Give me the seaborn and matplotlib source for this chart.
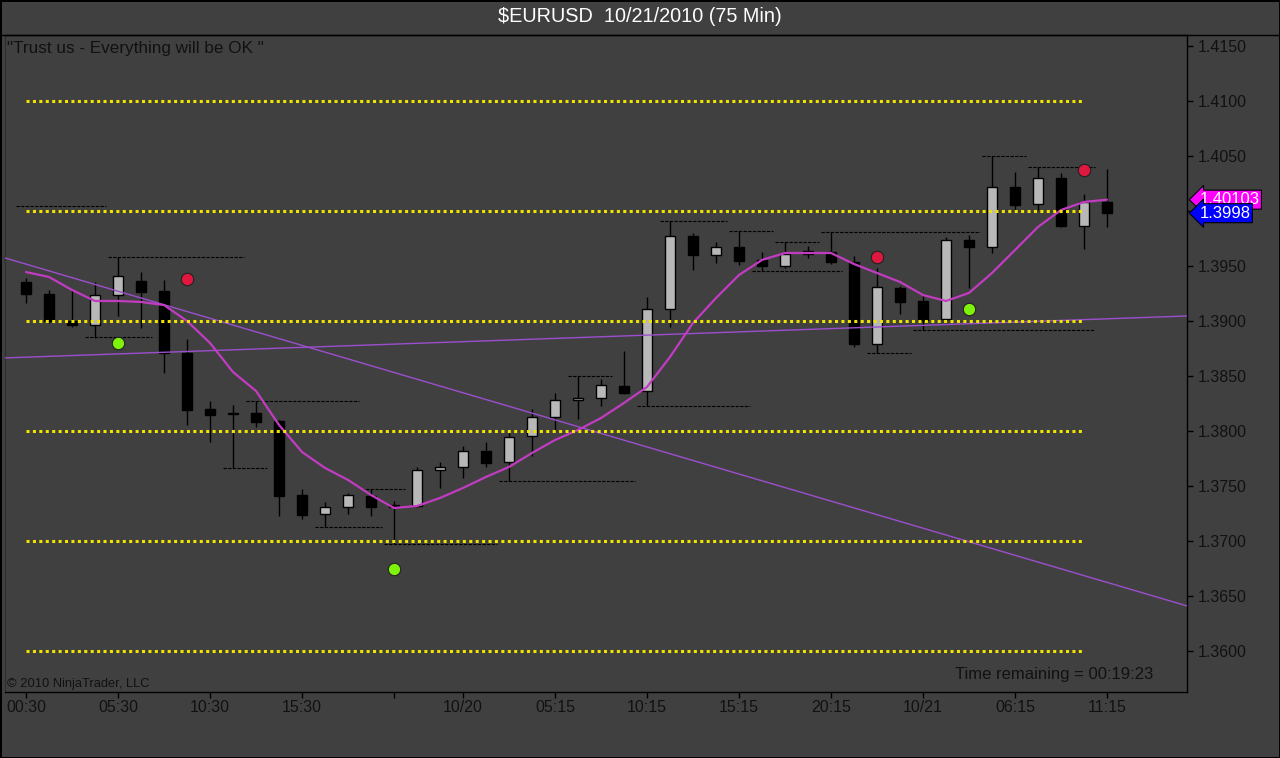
import numpy as np
import pandas as pd
import matplotlib
matplotlib.use("Agg")
import matplotlib.pyplot as plt
from matplotlib.lines import Line2D
import seaborn as sns

# EURUSD 75 min bars, one row per bar (index 0 = 00:30 on 10/19)
bar_open = [1.39355, 1.39245, 1.39000, 1.38964, 1.39236, 1.39364, 1.39273, 1.38709,
            1.38200, 1.38164, 1.38164, 1.38091, 1.37418, 1.37245, 1.37309, 1.37409,
            1.37327, 1.37318, 1.37645, 1.37673, 1.37818, 1.37718, 1.37955, 1.38127,
            1.38282, 1.38300, 1.38409, 1.38364, 1.39109, 1.39773, 1.39600, 1.39673,
            1.39555, 1.39500, 1.39609, 1.39627, 1.39536, 1.38791, 1.39300, 1.39182,
            1.39018, 1.39736, 1.39673, 1.40218, 1.40064, 1.40300, 1.39864, 1.40082]
bar_high = [1.39391, 1.39282, 1.39282, 1.39355, 1.39582, 1.39445, 1.39373, 1.38836,
            1.38273, 1.38236, 1.38273, 1.38100, 1.37473, 1.37355, 1.37436, 1.37473,
            1.37364, 1.37673, 1.37718, 1.37864, 1.37900, 1.38009, 1.38200, 1.38345,
            1.38500, 1.38473, 1.38727, 1.39218, 1.39909, 1.39800, 1.39718, 1.39818,
            1.39627, 1.39718, 1.39682, 1.39809, 1.39591, 1.39482, 1.39318, 1.39227,
            1.39764, 1.39782, 1.40500, 1.40355, 1.40400, 1.40345, 1.40155, 1.40382]
bar_low = [1.39164, 1.38982, 1.38945, 1.38845, 1.39045, 1.38936, 1.38527, 1.38055,
           1.37900, 1.37664, 1.38036, 1.37227, 1.37200, 1.37127, 1.37245, 1.37227,
           1.36975, 1.37310, 1.37482, 1.37573, 1.37673, 1.37545, 1.37773, 1.38009,
           1.38109, 1.38227, 1.38336, 1.38227, 1.38945, 1.39464, 1.39527, 1.39509,
           1.39455, 1.39482, 1.39573, 1.39518, 1.38764, 1.38709, 1.39064, 1.38918,
           1.38982, 1.39300, 1.39618, 1.39991, 1.40009, 1.39855, 1.39655, 1.39855]
bar_close = [1.39245, 1.39000, 1.38964, 1.39236, 1.39409, 1.39264, 1.38709, 1.38191,
             1.38145, 1.38155, 1.38082, 1.37409, 1.37236, 1.37309, 1.37418, 1.37309,
             1.37309, 1.37645, 1.37673, 1.37818, 1.37709, 1.37945, 1.38127, 1.38282,
             1.38300, 1.38418, 1.38345, 1.39109, 1.39773, 1.39600, 1.39673, 1.39545,
             1.39500, 1.39609, 1.39636, 1.39536, 1.38791, 1.39309, 1.39173, 1.39009,
             1.39736, 1.39673, 1.40218, 1.40055, 1.40300, 1.39864, 1.40082, 1.39980]

# smoothed moving average (magenta)
ma_values = [1.39445, 1.39400, 1.39282, 1.39182, 1.39182, 1.39173, 1.39145, 1.39000,
             1.38800, 1.38536, 1.38364, 1.38055, 1.37809, 1.37664, 1.37555, 1.37418,
             1.37300, 1.37318, 1.37391, 1.37482, 1.37582, 1.37673, 1.37800, 1.37918,
             1.38009, 1.38118, 1.38255, 1.38400, 1.38673, 1.38982, 1.39209, 1.39418,
             1.39555, 1.39618, 1.39618, 1.39618, 1.39518, 1.39436, 1.39355, 1.39236,
             1.39182, 1.39255, 1.39436, 1.39645, 1.39855, 1.40009, 1.40082, 1.40103]

# swing high / low levels: price, first bar, last bar
swing_price = [1.40045, 1.39582, 1.38850, 1.38273, 1.37664, 1.37127, 1.37473, 1.36975,
               1.37545, 1.38500, 1.38227, 1.39909, 1.39818, 1.39718, 1.39455, 1.39809,
               1.38709, 1.38918, 1.40500, 1.40400]
swing_start = [0, 4, 3, 10, 9, 13, 15, 16, 21, 24, 27, 28, 31, 33, 32, 35, 37, 39, 42, 44]
swing_end = [3, 9, 5, 14, 10, 15, 16, 20, 26, 25, 31, 30, 32, 34, 35, 41, 38, 46, 43, 46]

# round-number levels
level_prices = [1.4100, 1.4000, 1.3900, 1.3800, 1.3700, 1.3600]
level_first_bar = 0
level_last_bar = 46

# trend lines, two anchor points each (bar, price)
trend_down = [(0, 1.39517), (50, 1.36439)]
trend_up = [(0, 1.38671), (50, 1.39042)]

# signal dots
red_bars = [7, 37, 46]
red_prices = [1.39382, 1.39582, 1.40373]
green_bars = [4, 16, 41]
green_prices = [1.38800, 1.36745, 1.39109]

tick_bars = [0, 4, 8, 12, 16, 19, 23, 27, 31, 35, 39, 43, 47]
tick_labels = ["00:30", "05:30", "10:30", "15:30", "", "10/20", "05:15",
               "10:15", "15:15", "20:15", "10/21", "06:15", "11:15"]
price_ticks = np.arange(1.3600, 1.41501, 0.005)

BG = "#404040"
INK = "#111111"

sns.set_theme(style="dark")
plt.rcParams["font.family"] = ["Liberation Sans", "DejaVu Sans"]

df = pd.DataFrame({"bar": np.arange(len(bar_open)), "open": bar_open,
                   "high": bar_high, "low": bar_low, "close": bar_close,
                   "ma": ma_values})
df["up"] = df["close"] > df["open"]

fig = plt.figure(figsize=(12.8, 7.58), dpi=100)
fig.patch.set_facecolor(BG)
fig.patch.set_edgecolor("black")
fig.patch.set_linewidth(2)
ax = fig.add_axes([5 / 1280, 66 / 758, 1182 / 1280, 657 / 758])
ax.set_facecolor(BG)

# level lines
for lp in level_prices:
    ax.plot([level_first_bar, level_last_bar], [lp, lp], color="#f0e400",
            lw=2.2, linestyle=(0, (1, 1.1)), zorder=7)

# swing lines
for sp, s0, s1 in zip(swing_price, swing_start, swing_end):
    ax.plot([s0 - 0.43, s1 + 0.48], [sp, sp], color="black", lw=0.8,
            linestyle=(0, (3, 1.2)), zorder=1)

# candles
ax.vlines(df["bar"], df["low"], df["high"], color="black", lw=1, zorder=2)
ax.bar(df["bar"], (df["close"] - df["open"]).abs(),
       bottom=df[["open", "close"]].min(axis=1), width=0.45,
       color=np.where(df["up"], "#b8b8b8", "black"), edgecolor="black",
       linewidth=1, zorder=3)

# trend lines
ax.axline(trend_down[0], trend_down[1], color="#9b4fcf", lw=1, zorder=4)
ax.axline(trend_up[0], trend_up[1], color="#9b4fcf", lw=1, zorder=4)

sns.lineplot(data=df, x="bar", y="ma", color="#c23cc2", lw=1.6, ax=ax, zorder=5)

sns.scatterplot(x=red_bars, y=red_prices, color="#e0173f", s=80,
                edgecolor="#222222", linewidth=0.8, ax=ax, zorder=6, legend=False)
sns.scatterplot(x=green_bars, y=green_prices, color="#7ef20a", s=80,
                edgecolor="#222222", linewidth=0.8, ax=ax, zorder=6, legend=False)

ax.set_xlim(-0.913, 50.478)
ax.set_ylim(1.35627, 1.4160)
ax.set_xlabel("")
ax.set_ylabel("")
ax.grid(False)

ax.set_xticks(tick_bars)
ax.set_xticklabels(tick_labels)
ax.yaxis.tick_right()
ax.set_yticks(price_ticks)
ax.set_yticklabels([f"{p:.4f}" for p in price_ticks])
ax.tick_params(axis="x", direction="out", length=4, width=1, color="black",
               labelsize=11.5, labelcolor=INK, pad=1.5, bottom=True)
ax.tick_params(axis="y", direction="out", length=4.5, width=1, color="black",
               labelsize=11.5, labelcolor=INK, pad=3, right=True, left=False)

for side in ["bottom", "right", "top"]:
    ax.spines[side].set_color("black")
    ax.spines[side].set_linewidth(1)
ax.spines["left"].set_color("#2e2e2e")
ax.spines["left"].set_linewidth(0.8)

# price tags on the axis
last_ma = ma_values[-1]
last_close = bar_close[-1]
tag_kw = dict(transform=ax.get_yaxis_transform(), ha="left", va="center",
              fontsize=12, color="white", clip_on=False, zorder=10)
ax.text(1.0105, last_ma, f"{last_ma:.5f}",
        bbox=dict(boxstyle="larrow,pad=0.12", fc="#ff00ff", ec="black", lw=0.8), **tag_kw)
ax.text(1.0105, last_close, f"{last_close:.4f}",
        bbox=dict(boxstyle="larrow,pad=0.12", fc="#0000ff", ec="black", lw=0.8), **tag_kw)

fig.add_artist(Line2D([0, 1], [1 - 34.5 / 758] * 2, color="black", lw=1))

fig.text(640 / 1280, 1 - 17 / 758, "$EURUSD  10/21/2010 (75 Min)", ha="center",
         va="center", fontsize=14.3, color="white")
fig.text(7 / 1280, 1 - 48 / 758, '"Trust us - Everything will be OK "', ha="left",
         va="center", fontsize=12.3, color=INK)
fig.text(7 / 1280, 1 - 684 / 758, "\u00a9 2010 NinjaTrader, LLC", ha="left",
         va="center", fontsize=9.3, color=INK)
fig.text(1153 / 1280, 1 - 675 / 758, "Time remaining = 00:19:23", ha="right",
         va="center", fontsize=12, color=INK)

fig.savefig("out.png", dpi=100, facecolor=BG)
